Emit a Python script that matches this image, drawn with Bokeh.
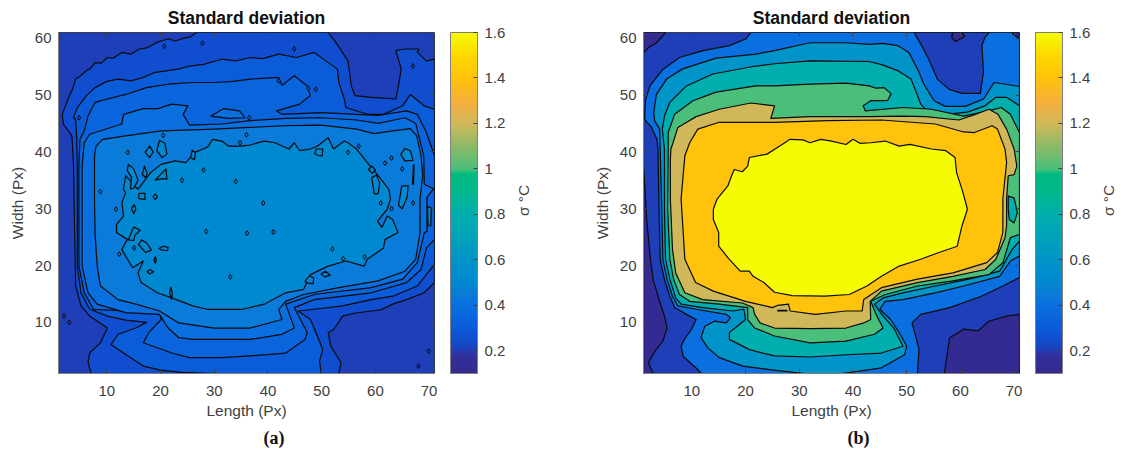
import numpy as np
from bokeh.embed import file_html
from bokeh.resources import INLINE
from bokeh.layouts import row
from bokeh.models import ColorBar, ColumnDataSource, FixedTicker, LinearAxis, LinearColorMapper, Range1d, Title
from bokeh.plotting import figure
from bokeh.transform import transform

# ---------- colour scale ----------
cbar_values = [0.10, 0.17, 0.195, 0.2, 0.25, 0.3, 0.35, 0.4, 0.45, 0.5, 0.6, 0.7, 0.8, 0.9, 0.98, 1.0, 1.1, 1.2, 1.3, 1.4, 1.5, 1.6]
cbar_colors = ["#342a8f", "#322f9a", "#2a39aa", "#1f3fb8", "#0f4ed0", "#0b5cd8", "#0a66dc", "#0a70e0", "#0a7cd8", "#0088d0",
               "#0094c8", "#00a4b8", "#00aead", "#00b88c", "#00ba80", "#4bbf7a", "#8bba68", "#d0b85a", "#f5b03a", "#ffc30b", "#ffd800", "#f5fb00"]
cbar_ticks = [0.2, 0.4, 0.6, 0.8, 1.0, 1.2, 1.4, 1.6]
x_ticks = [10, 20, 30, 40, 50, 60, 70]
y_ticks = [10, 20, 30, 40, 50, 60]

# ---------- panel (b): contour regions, (length, width) ----------
frame_box = [(1, 1), (71, 1), (71, 61), (1, 61)]
b_navy_left = [(1,37.5),(1.3,33),(1.6,28),(2,24),(2.3,21.1),(2.8,17.5),(3.9,14),(4.9,11.1),(5.4,9),(4.6,6.7),(3.1,4.9),(1.9,2.9),(2.8,1),(1,1)]
b_navy_top = [(1,57.5),(1.2,57.6),(1.9,58.3),(3.4,59.2),(4.6,60.4),(5.1,61),(1,61)]
b_navy_patch = [(58.5,61),(58.4,60.1),(59.1,59.4),(60.8,60.3),(60.3,61)]
b_navy_corner = [(69.6,61),(69.9,60.6),(71,60),(71,61)]
b_navy_br = [(57,1),(57.5,4.1),(58,7.3),(60.6,8.8),(63.3,8.5),(65.3,10.2),(68.6,11.1),(71,11.4),(71,1)]
b_dark_tr = [(51.4,61),(52.6,59),(54.1,56.3),(55.7,52.8),(57.9,51),(60.3,50.3),(63.7,50.3),(64.3,54),(64,58.7),(64.6,60.2),(65.3,61)]
b_04 = [(21,61),(20.1,59.9),(17,58.7),(12.1,57.8),(7.7,56.6),(4.6,54.5),(2.2,51.6),(1.4,49.2),(1.2,45.7),(2.5,44.3),(3.5,42.2),(3.7,40.4),(3.9,30),
        (4.1,21.1),(4.9,17.5),(5.9,14.6),(6.8,12.6),(9,11.4),(10.8,10.5),(9.9,8.7),(8.6,7),(8,5.8),(8.4,4),(11.1,1.7),(11.7,1),
        (52,1),(52.3,5.2),(51,9.9),(52.6,11.4),(58,12.6),(63.9,14.6),(67.9,16.4),(71,17.9),(71,61)]
b_06 = [(71,51.5),(66.3,52.2),(64.3,49.3),(60.9,48),(57.2,48),(55.1,49),(53.2,51.9),(52.3,54),(50.4,57.5),(48.3,58.7),(45.5,59.1),(43,58.9),(38.7,59.2),(32,59.2),(25.4,57.8),
        (21.9,57.2),(14.5,56.5),(8.3,54.6),(5.3,52.8),(3.4,50.1),(2.9,46.9),(3.1,45.4),(4,44),(4.1,40.5),(4.4,30),
        (4.6,21.1),(5.4,17.5),(6.4,14.6),(7.4,12.9),(10.8,12.3),(16.4,11.4),(17.2,10.8),(16.4,9.9),(14.2,10.2),(12.4,9.3),(11.7,7.3),(13,5.5),(15.1,3.8),(19.5,2.3),(26,1.5),(31,1),
        (38,1),(45.3,2),(49.6,4.3),(50,5.8),(48.6,8.2),(47,10.5),(45,12.3),(46,13.7),(49.3,14),(55.3,15.2),(60.6,16.4),(67.3,18.1),(69.3,20.8),(71,21.7)]
b_08 = [(71,48.1),(68.6,49.6),(66.6,49.6),(64.6,48.1),(61.3,47),(57.2,46.6),(54.1,46.9),(52.6,48.4),(51.7,50.7),(50.8,52.8),(48.3,54.3),(45.5,55.3),(43,55.9),(32,56),(25.4,55.5),
        (21.9,55.1),(13.9,53.7),(9,51.6),(5.9,48.7),(4.9,46.3),(4.5,44),(4.9,40.5),(4.9,30),
        (5.1,21.1),(5.9,17.6),(7,14.3),(8,13.2),(12,12.6),(17.6,12),(19.7,12.3),(20,10.5),(17,8.2),(17,7),(20.7,5.2),(25.4,4.1),(32,3.9),(38.7,4.3),(45.3,4.6),(49.3,5.8),(47.6,9),(45.6,11.1),(44,13.2),
        (45.6,14.3),(49.3,15.2),(55.3,16.4),(62,17.7),(67.3,19),(69.6,22.8),(71,24.3)]
b_10 = [(71,43.4),(69.3,46.6),(67.6,47.8),(65.3,47.2),(60.6,46.3),(54.6,47.5),(49.3,47.8),(42.3,47.2),(41.9,48.1),(43.3,49),(46.4,49),(47.1,50.2),(45.8,51.3),(44.3,51.2),(43,51.6),(38.7,52.1),(32,51.9),(25.4,51.6),
        (21.9,51.6),(14.5,50.5),(10.2,49),(6.8,46.6),(5.6,43.4),(5.6,40.5),(5.5,30),
        (5.9,21.1),(6.6,17.6),(7.7,14.9),(9.6,13.7),(15.1,13.2),(20.4,12.6),(20.4,10.5),(21.7,9),(25.4,7.6),(32,6.4),(38.7,6.7),(44,7.9),(45.6,9),(44.3,11.4),(43.3,13.7),
        (46,14.9),(52,16.4),(58.6,17.3),(65.3,18.4),(67.9,20.5),(69.3,24.9),(71,25.5)]
b_pocket = [(68.9,32.2),(70,31.9),(70.6,29.3),(70,27.5),(69.1,28.1),(68.9,29.9)]
b_12 = [(43,46.2),(49.2,46.3),(53.5,46.2),(59.7,45.6),(62.8,46.6),(65.3,47.5),(67,46.6),(68.6,44),(70,40.5),(70.5,37.5),(70,36),(68.9,35.8),(68.6,31.7),(68.6,27),(68.3,24.9),(66.6,21.1),(64.6,19.3),(58.6,18.1),(52,17),(45.3,15.5),
        (43.2,13.7),(43.3,10.5),(42,9.9),(38.7,9),(32,8.9),(25.4,9),(22.7,9.9),(21.7,11.4),(21.4,12.6),(19.4,13.4),(12,14),(8.7,15.2),(7,18.7),(6.4,22.8),(6,31.7),(6,38.7),
        (6.1,40.5),(6.5,41.6),(7.4,44.3),(10.8,46.2),(15.1,47.5),(21,48.6),(25.4,48.1),(24.7,45.9),(32,46.2)]
b_14 = [(9.6,41.6),(11.1,44),(15.1,45.2),(25.4,45.2),(35.3,45.5),(45.3,45.6),(55.3,44.9),(60.6,43.5),(62.6,43.4),(65.9,44.6),(66.9,44),(68.3,40.5),(68.6,38.1),(67.9,31.7),(67.9,25.8),(66.9,22.3),(64.9,20.5),(58.6,18.7),(52,17.6),(45.3,16.1),
        (42,14),(41.7,12),(38.7,12),(33,11.4),(28.3,12),(28,13.2),(26,13),(25,12.6),(20,13.7),(14,15.5),(10.7,17),(8.7,21.1),(8,31.7),(8.7,39.3)]
b_dash = [(26,12),(27.7,12),(27.7,12.12),(26,12.12)]
b_16 = [(14,29.9),(14.7,31.7),(16.7,34),(17.4,35.8),(17.9,36.9),(19.4,36.5),(20.4,37.5),(20.7,39),(24,39.6),(26,40.8),(27.3,41.6),(28.3,42.2),(30.7,42.1),(32,41.6),(34,42.2),(36,41.9),(38.7,41.3),(40,42.2),(41.3,41.5),(43.3,41.6),(46,41.9),(48.6,41),(50.6,41.3),(54.6,40.5),(57.3,40.2),(59,39),(59.3,36.3),(60.3,33.4),(60.8,31.7),(61.3,29.9),(60.3,27),(59.4,23.4),(56,22.3),(52.6,21.1),(48.6,19.9),(45.3,18.1),(42.6,16.4),(39.3,14.9),(34.7,14.6),(28.7,14.7),(25.4,15.3),(23.4,17),(21.4,18.1),(20.7,19),(19,19),(16.7,21.4),(15,23.4),(15,25.8),(14,28.1)]

panel_b_regions = [frame_box, b_04, b_dark_tr, b_navy_left, b_navy_top, b_navy_patch, b_navy_corner, b_navy_br, b_06, b_08, b_10, b_pocket, b_12, b_dash, b_14, b_16]
panel_b_sigma = [0.2, 0.4, 0.2, 0.12, 0.12, 0.12, 0.12, 0.12, 0.6, 0.8, 1.0, 0.8, 1.2, 1.2, 1.4, 1.6]

# ---------- panel (a): contour regions, (length, width) ----------
a_1 = [(26.7,61),(25.5,60.2),(24.7,60.1),(22.7,59.5),(21.5,59.9),(19.4,59.3),(17.5,58.3),(16.1,58.1),(14.5,57.2),(12.8,57.5),(11.2,56.5),(10.1,56.6),(9,55.6),(7.8,55.7),(6.9,54.6),(6.2,54.3),(5,53.3),(4.2,52.8),(3.6,51),(2.9,49.6),(1.7,46.6),(1.9,44.9),(3.5,42.8),(3.8,37.5),(4,25.8),(4.2,16.4),(5.2,12.9),(6.8,11.1),(10.1,9),(8.8,6.4),(6.8,4.6),(6.5,2.9),(7.1,1),
       (53.2,1),(53.6,2.9),(51.7,5.8),(51.2,8.2),(52.2,8.7),(53.9,11.1),(56,11.6),(59.2,12),(61,12.2),(63.2,13.2),(65.8,14),(69.1,15.2),(71,17),(71,56.3),(69.5,56),(67.8,57.5),(68.1,58.1),(65.5,58.1),(63.8,57.8),(64.8,54.6),(64.4,52.2),(63.8,49.3),(59.2,49.6),(56.2,49.9),(55.5,51.6),(54.9,56),(52.6,59.3),(51.2,61)]
a_2 = [(3.8,46),(4.5,47.8),(6.2,49.9),(7.8,51.3),(10,52.4),(12.1,52.8),(14.5,52.5),(16.8,53.1),(19,54),(21.4,54.3),(23.5,54.6),(25.4,55.1),(28,55.4),(31.4,56.3),(34,56),(36.7,56.6),(39,56.4),(42,57.2),(45.3,56.6),(48.6,57.5),(51.2,55.7),(52.9,54.6),(53.2,52.2),(54.2,49.3),(54.5,47.8),(58.5,46.6),(61.5,46.6),(65.1,48.1),(66.5,50.1),(69.1,48.1),(71,47.5),(71,20.2),(67.8,16.4),(63.2,14.6),(59.2,14),(53.9,12.9),(48.6,12.3),(45.6,12),(47.9,10.5),(49.2,7.6),(50.2,5.2),(49.6,3.2),(49.9,1),(30,1),(24,1.2),(20,1.6),(16.8,2.3),(13.1,4.6),(10.8,6.1),(12.1,7.9),(15.4,9),(17.4,10),(13.5,10.4),(10.1,11.1),(6.8,12.3),(5.2,15.2),(4.5,19.9),(4.5,37.5),(4.4,42.2),(4.2,45.7)]
a_3 = [(5,42.2),(5.8,43.7),(6.5,46.3),(7.8,48.7),(10.1,49.3),(13.5,50.1),(17.4,51.3),(21.4,51.9),(26,52.2),(30,52.2),(33.5,52.4),(36.7,52.8),(42,53.1),(42.6,51.7),(44.9,53.4),(47.3,51.6),(47.9,49.9),(45.9,48.4),(41.6,47.2),(42.6,46.6),(49.9,46.9),(56.5,46.6),(60.5,46.4),(65.8,47.2),(67.8,46.6),(69.5,43.4),(71,39.3),(71,24.6),(69.5,23.1),(68.5,19.3),(65.8,17),(59.2,15.2),(48.6,14),(44.9,12.6),(47.3,8.2),(46.9,7),(43.3,4.6),(36.7,4.1),(31.4,3.8),(25.4,3.8),(22.1,4.6),(16.8,6.4),(17.8,8.2),(20.1,10.5),(19.8,12),(13.5,12),(7.5,12.3),(5.8,15.2),(4.8,19.9),(4.8,37.5)]
a_lobe = [(29.4,46.3),(31.7,47.6),(34.7,47.2),(35.7,46),(32.7,45.9)]
a_4 = [(5.8,41.6),(6.8,43.1),(12.8,44.9),(13.1,46.6),(16.8,47.6),(19.5,47.6),(22.1,48.4),(25.1,48.1),(24.2,46.6),(25.4,44.7),(31.4,44.9),(36.7,45.5),(43.3,45.9),(49.9,46),(56.5,45.6),(60.5,45),(65.5,46),(67.5,45),(69,39.3),(69.1,34.3),(70.8,33.5),(69.6,32),(69.6,26),(69.1,25.8),(67.8,20.5),(65.1,17.6),(59.2,16.1),(48.6,14.9),(43.3,13.2),(44.9,9),(42.6,7.9),(36.7,7),(30,7),(26,7),(23.4,7.3),(21.4,9),(19.8,11.4),(13.5,11.7),(8.2,13.2),(6.5,15.2),(5.4,19.9),(5.4,37.5)]
a_5 = [(7.7,31.7),(7.7,39.3),(8,41),(9.2,42.2),(13.5,42.8),(20.1,43.7),(30,44),(36.7,44.3),(43.3,44.6),(49.9,44.7),(56.5,44),(59.8,43.2),(63.2,43.7),(66.5,44.1),(67.7,42.8),(68.5,39.3),(68.8,35.8),(68.3,31.7),(68.3,25.8),(67.5,21.1),(65.5,19),(60.5,17.3),(53.2,16.1),(46.6,14.9),(43.3,13.7),(42,12.3),(42.6,10.5),(36.7,9),(30,9),(23.4,9.9),(19.8,12),(15.4,13.2),(12.1,14),(8.8,16.4),(8.2,19.9),(7.8,25.8)]
a_6 = [(13.1,33.4),(13.5,35.8),(15.8,33.4),(18.1,36.3),(20.1,37.8),(22.7,38.4),(24.7,38.1),(26.4,39.9),(28.7,40.8),(29.7,42.2),(31.4,41.9),(32.7,41),(34.7,41),(36.7,41.2),(39.3,41.9),(41.3,41.6),(43.9,40.5),(44.9,41.6),(45.9,40.2),(47.9,40.5),(49.2,41),(51.2,42.5),(52.2,40.5),(54.2,41.9),(54.9,41.6),(56.5,40.5),(58.5,38.1),(60.5,35.8),(62.5,33.4),(62.8,31.7),(62.2,29.9),(60.4,27.8),(61.2,26.7),(62.2,28.7),(63.2,28.1),(64.2,25.8),(61.8,24.6),(61.5,23.1),(58.5,21.1),(57.9,19.9),(54.5,20.8),(51.2,19.9),(47.9,18.4),(46.6,15.8),(43.3,15.2),(39.3,13.2),(35.3,12.3),(32.7,12.3),(28.7,12.3),(26,12.9),(22.1,14.3),(19.4,15.2),(16.4,17),(15.8,18.7),(16.8,20.8),(14.8,19.6),(12.8,22.8),(13.8,24.6),(11.8,25.8),(11.8,27.2),(13.1,28.7),(12.8,31.1),(13.5,32.8)]
a_isles = [
    [(19.3,40.2),(19.8,42),(20.8,41.5),(21.2,39.6),(20.3,39)], [(17.1,39.9),(18,41),(18.6,40),(18,39)], [(25.6,39),(25.9,40.3),(26.5,39.8),(26.3,38.6)],
    [(13.8,36.7),(14,37.8),(15,37),(15.8,35),(15,33.6),(14.4,33.5),(14.6,35.5)], [(19,35),(20.3,35.3),(21.2,35.2),(21,37),(20.2,36.2)], [(16.6,36),(17,37.5),(17.5,36.2),(17.2,35.5)],
    [(15.9,31.8),(16,32.7),(17.1,32.7),(17.1,31.6)], [(14.6,30),(15.1,30.7),(15.4,30),(15,29.1)], [(18.6,32.1),(19,32.6),(19.4,32.1),(19,31.6)],
    [(14,24.5),(15,26.8),(16.2,26.2),(15.2,25.3),(15,24.4)], [(15.9,23.7),(16.5,24.5),(17.5,23.9),(18.3,22.7),(17.2,22.3)], [(19.7,23),(20.5,23.4),(21.4,23.2),(21.3,22.6),(20.3,22.7)],
    [(17.5,18.9),(18,19.3),(18.7,18.9),(18,18.5)], [(21.7,15.2),(21.9,16.2),(22.2,15.1),(22,14.1)], [(18.8,21),(19,21.5),(19.2,21),(19,20.4)],
    [(46.9,17.2),(47.7,18.2),(48.5,17.8),(48.4,16.8),(47.5,16.9)], [(49.9,18.5),(50.7,19),(51.6,18.3),(50.6,18)], [(48.7,39.7),(49,40.5),(50.2,40.5),(50.1,39.3),(49.2,39.4)],
    [(64.7,39.5),(65.5,40.6),(66.5,40.2),(67,38.5),(65.5,38.4)], [(58.7,36.9),(59.4,37.5),(60,36.8),(59.4,36.2)], [(59.3,35.5),(60.2,35.9),(60.8,34.5),(60.5,32.6),(59.8,32.6)],
    [(64.9,34),(66.1,34),(65.9,32),(65,30),(64.3,30.6)], [(66.9,34.3),(67.1,37.7),(67.2,37.7),(67.1,34.3)], [(69.7,30.4),(70.4,30.1),(70.3,27),(69.8,27)],
]
a_dots_x = [63, 63, 65, 67, 61, 61.8, 39.1, 36.1, 54.9, 56.9, 34.8, 36, 20.5, 13.9, 11.7, 8.8, 12.3, 15.1, 2, 3, 69.9, 68, 27.8, 20.7, 44.9, 67, 48.9, 42, 4.8, 47.5, 28, 24, 34, 41, 52, 54, 58, 36.5, 33, 28.5]
a_dots_y = [30, 38.9, 37, 31, 31, 38, 31, 25.7, 39.9, 41, 41.6, 43, 42.9, 39.9, 29.9, 33, 22, 23.1, 11.1, 10, 4.9, 2.3, 59.1, 58.6, 58.1, 55.1, 51, 52.5, 46, 51.2, 36.8, 35, 34.8, 25.9, 22.9, 21.2, 21.5, 46, 18, 26]
a_dots_sigma = [0.45, 0.45, 0.45, 0.45, 0.45, 0.45, 0.5, 0.5, 0.45, 0.45, 0.45, 0.45, 0.45, 0.45, 0.45, 0.45, 0.45, 0.45, 0.2, 0.2, 0.2, 0.2, 0.25, 0.25, 0.25, 0.25, 0.3, 0.3, 0.25, 0.3, 0.5, 0.5, 0.5, 0.5, 0.5, 0.5, 0.5, 0.35, 0.5, 0.5]
panel_a_regions = [frame_box, a_1, a_2, a_3, a_lobe, a_4, a_5, a_6] + a_isles
panel_a_sigma = [0.2, 0.25, 0.3, 0.35, 0.4, 0.4, 0.45, 0.5] + [0.5] * len(a_isles)

# ---------- build ----------
grid = np.linspace(0.1, 1.6, 256)
rgb = np.array([[int(c[i:i + 2], 16) for i in (1, 3, 5)] for c in cbar_colors], dtype=float)
palette = ["#%02x%02x%02x" % tuple(int(round(np.interp(v, cbar_values, rgb[:, k]))) for k in range(3)) for v in grid]
mapper = LinearColorMapper(palette=palette, low=0.1, high=1.6)

TXT = "#404040"
SANS = "Liberation Sans"


def panel(regions, sigma, letter, letter_offset, total_width):
    p = figure(frame_width=376, frame_height=341, min_border_left=58, min_border_top=29, min_border_bottom=72,
               min_border_right=total_width - 434, x_range=Range1d(1, 71), y_range=Range1d(1, 61),
               output_backend="svg", toolbar_location=None)
    src = ColumnDataSource(dict(xs=[[v[0] for v in r] for r in regions], ys=[[v[1] for v in r] for r in regions], sigma=sigma))
    p.patches("xs", "ys", source=src, fill_color=transform("sigma", mapper), line_color="#0a0a0a", line_width=1.2, line_join="round")
    p.grid.visible = False
    p.outline_line_color = "#808080"
    p.title.text = "Standard deviation"
    p.title.align = "center"
    p.title.text_font = SANS
    p.title.text_font_size = "17.5px"
    p.title.text_font_style = "bold"
    p.title.text_color = "#111111"
    for ax, ticks, label, std, lab_std in ((p.xaxis[0], x_ticks, "Length (Px)", 12, 3), (p.yaxis[0], y_ticks, "Width (Px)", 7, 6)):
        ax.ticker = FixedTicker(ticks=ticks)
        ax.axis_label = label
        ax.axis_label_text_font = SANS
        ax.axis_label_text_font_size = "15.5px"
        ax.axis_label_text_font_style = "normal"
        ax.axis_label_text_color = TXT
        ax.major_label_text_font = SANS
        ax.major_label_text_font_size = "15px"
        ax.major_label_text_color = TXT
        ax.axis_line_color = "#808080"
        ax.major_tick_line_color = "#404040"
        ax.major_tick_in = 4
        ax.major_tick_out = 0
        ax.minor_tick_line_color = None
        ax.major_label_standoff = std
        ax.axis_label_standoff = lab_std
    for side, ticks in (("above", x_ticks), ("right", y_ticks)):
        mirror = LinearAxis(ticker=FixedTicker(ticks=ticks), major_label_text_font_size="0px", major_label_standoff=0,
                            axis_line_color=None, major_tick_line_color="#404040", major_tick_in=4, major_tick_out=0,
                            minor_tick_line_color=None, major_label_text_color=None)
        p.add_layout(mirror, side)
    cb = ColorBar(color_mapper=mapper, width=27, height=341, padding=0, margin=0, location=(16, 0),
                  ticker=FixedTicker(ticks=cbar_ticks),
                  major_label_overrides={0.2: "0.2", 0.4: "0.4", 0.6: "0.6", 0.8: "0.8", 1.0: "1", 1.2: "1.2", 1.4: "1.4", 1.6: "1.6"},
                  major_label_text_font=SANS, major_label_text_font_size="15px", major_label_text_color=TXT,
                  major_tick_in=4, major_tick_line_color="#404040", minor_tick_line_color=None,
                  bar_line_color="#808080", label_standoff=7, border_line_color=None, background_fill_color=None)
    p.add_layout(cb, "right")
    sigma_axis = LinearAxis(ticker=FixedTicker(ticks=[28.7]), major_label_overrides={28.7: "\u03c3 \u00b0C"}, major_label_orientation=np.pi / 2,
                            major_label_standoff=9, major_label_text_font=SANS, major_label_text_font_size="15.5px",
                            major_label_text_color=TXT, axis_line_color=None, major_tick_line_color=None, minor_tick_line_color=None)
    p.add_layout(sigma_axis, "right")
    p.add_layout(Title(text=letter, align="left", offset=letter_offset, standoff=8, text_font="Liberation Serif",
                       text_font_size="18px", text_font_style="bold", text_color="#111111"), "below")
    return p


pa = panel(panel_a_regions, panel_a_sigma, "(a)", 205, 585)
src_dots = ColumnDataSource(dict(x=a_dots_x, y=a_dots_y, sigma=a_dots_sigma))
pa.scatter("x", "y", source=src_dots, marker="diamond", size=5, fill_color=transform("sigma", mapper), line_color="#0a0a0a", line_width=1)
pb = panel(panel_b_regions, panel_b_sigma, "(b)", 204, 534)

layout = row(pa, pb, spacing=0)
open("out.html", "w").write(file_html(layout, INLINE))
